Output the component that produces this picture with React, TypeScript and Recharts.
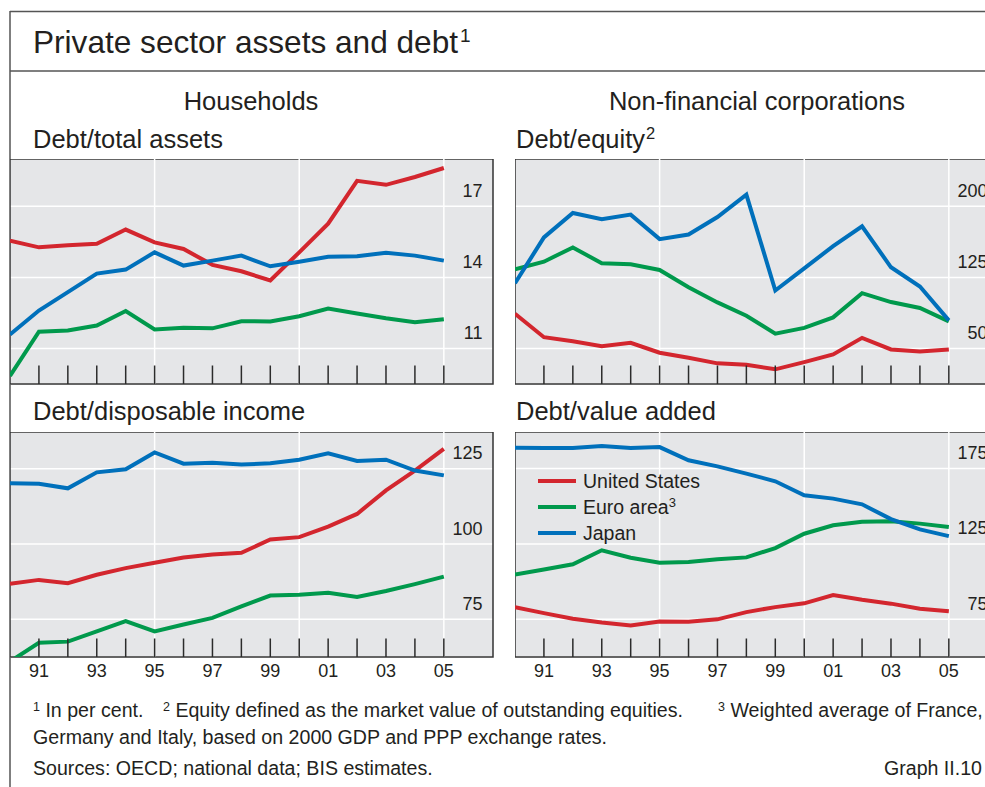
import { LineChart, Line, XAxis, YAxis, CartesianGrid, ReferenceLine, ReferenceArea, Legend } from "recharts"

const years = [1990, 1991, 1992, 1993, 1994, 1995, 1996, 1997, 1998, 1999, 2000, 2001, 2002, 2003, 2004, 2005]
const tickYears = [1991, 1992, 1993, 1994, 1995, 1996, 1997, 1998, 1999, 2000, 2001, 2002, 2003, 2004, 2005]
const gridYears = [1995, 2000, 2005]

// Households: debt/total assets
const hhAssetsUS = [15.55, 15.27, 15.36, 15.42, 16.02, 15.48, 15.2, 14.53, 14.26, 13.87, 15.06, 16.27, 18.08, 17.91, 18.24, 18.62]
const hhAssetsEuro = [9.84, 11.71, 11.76, 11.97, 12.58, 11.8, 11.88, 11.85, 12.15, 12.14, 12.36, 12.69, 12.48, 12.28, 12.11, 12.23]
const hhAssetsJapan = [11.59, 12.6, 13.38, 14.16, 14.33, 15.06, 14.5, 14.71, 14.92, 14.47, 14.66, 14.87, 14.89, 15.04, 14.92, 14.71]
const hhAssetsTicks = [11, 14, 17]

// Households: debt/disposable income
const hhIncomeUS = [86.8, 88.1, 87, 89.8, 92, 93.8, 95.5, 96.5, 97.1, 101.5, 102.3, 105.8, 110, 117.8, 124.4, 131.6]
const hhIncomeEuro = [61, 67.2, 67.6, 71, 74.4, 71, 73.3, 75.5, 79.3, 82.9, 83.2, 83.8, 82.4, 84.4, 86.7, 89.2]
const hhIncomeJapan = [120.2, 120, 118.5, 123.8, 124.8, 130.4, 126.7, 127, 126.4, 126.8, 128, 130.1, 127.6, 128, 124.4, 122.8]
const hhIncomeTicks = [75, 100, 125]

// Non-financial corporations: debt/equity
const nfcEquityUS = [86.7, 61.9, 57.7, 52.4, 56, 45.5, 40.2, 34.3, 32.9, 28, 35.6, 43.7, 61.2, 49, 46.8, 49]
const nfcEquityEuro = [133.6, 141.6, 156.7, 139.9, 138.8, 132.9, 114.7, 98.6, 84.6, 65.7, 71.7, 82.8, 108.4, 99, 92.7, 78.6]
const nfcEquityJapan = [118.9, 167.2, 193, 186.4, 191.3, 165.4, 170.3, 188.8, 212.3, 111.2, 134.6, 158, 179, 135.7, 115.4, 79.7]
const nfcEquityTicks = [50, 125, 200]

// Non-financial corporations: debt/value added
const nfcValueUS = [83.1, 79.1, 75.4, 72.9, 70.9, 73.6, 73.4, 75, 79.8, 83.1, 85.6, 91.1, 88, 85.4, 82, 80.3]
const nfcValueEuro = [104.8, 108.1, 111.5, 120.8, 115.9, 112.6, 113, 114.8, 116.1, 122.3, 131.8, 137.4, 139.8, 140, 138.5, 136.2]
const nfcValueJapan = [188.9, 188.7, 188.7, 190, 188.7, 189.3, 180.5, 176.5, 171.7, 166.6, 157.3, 155.1, 151.3, 141.5, 134.7, 130.2]
const nfcValueTicks = [75, 125, 175]

const seriesNames = ["United States", "Euro area", "Japan"]
const seriesNotes: Record<string, string> = { "Euro area": "3" }

const RED = "#d3262e"
const GREEN = "#00994c"
const BLUE = "#0070bb"
const PLOT_BG = "#e5e6e8"
const INK = "#231f20"
const FONT = "'Liberation Sans', Arial, Helvetica, sans-serif"

const PLOT_W = 483
const PLOT_H = 225
const AXIS_H = 30
const X_MAX = 2006.7

function toRows(us: number[], euro: number[], japan: number[]) {
  return years.map((year, i) => ({ year, us: us[i], euro: euro[i], japan: japan[i] }))
}

function XTick(props: any) {
  const { x, y, payload, showLabel } = props
  const yr = payload.value
  const label = String(yr % 100).padStart(2, "0")
  return (
    <g>
      <line x1={x} x2={x} y1={y} y2={y - 18.5} stroke="#2b2b2b" strokeWidth={1.5} />
      {showLabel && yr % 2 === 1 && (
        <text x={x} y={y + 20} textAnchor="middle" fontSize={18} fill={INK} fontFamily={FONT}>
          {label}
        </text>
      )}
    </g>
  )
}

function YTick(props: any) {
  const { x, y, payload } = props
  return (
    <text x={x - 10.5} y={y - 9.5} textAnchor="end" fontSize={18} fill={INK} fontFamily={FONT}>
      {payload.value}
    </text>
  )
}

function LegendBox(props: any) {
  const items = [...(props.payload || [])].sort(
    (a: any, b: any) => seriesNames.indexOf(a.value) - seriesNames.indexOf(b.value)
  )
  return (
    <div style={{ fontFamily: FONT, fontSize: 19.5, color: INK }}>
      {items.map((entry: any) => (
        <div key={entry.value} style={{ display: "flex", alignItems: "center", height: 26, whiteSpace: "nowrap" }}>
          <span style={{ display: "inline-block", width: 38, height: 4.5, background: entry.color, marginRight: 7 }} />
          <span>
            {entry.value}
            {seriesNotes[entry.value] && (
              <sup style={{ fontSize: 13, verticalAlign: "top", position: "relative", top: -1 }}>{seriesNotes[entry.value]}</sup>
            )}
          </span>
        </div>
      ))}
    </div>
  )
}

interface PanelProps {
  left: number
  top: number
  rows: { year: number; us: number; euro: number; japan: number }[]
  domain: [number, number]
  ticks: number[]
  showXLabels?: boolean
  showLegend?: boolean
}

function Panel({ left, top, rows, domain, ticks, showXLabels, showLegend }: PanelProps) {
  return (
    <div style={{ position: "absolute", left, top }}>
      <LineChart width={PLOT_W + 1} height={PLOT_H + AXIS_H} data={rows} margin={{ top: 0, right: 0, bottom: 0, left: 0 }}>
        <CartesianGrid fill={PLOT_BG} fillOpacity={1} stroke="#ffffff" strokeWidth={1.5} vertical={false} />
        {gridYears.map((g) => (
          <ReferenceLine key={g} x={g} stroke="#ffffff" strokeWidth={1.5} />
        ))}
        <XAxis
          type="number"
          dataKey="year"
          domain={[1990, X_MAX]}
          allowDataOverflow
          ticks={tickYears}
          interval={0}
          height={AXIS_H}
          tickSize={0}
          tickMargin={0}
          axisLine={false}
          tickLine={false}
          tick={(p: any) => <XTick {...p} showLabel={showXLabels} />}
        />
        <YAxis
          orientation="right"
          width={1}
          domain={domain}
          allowDataOverflow
          ticks={ticks}
          interval={0}
          tickSize={0}
          tickMargin={0}
          axisLine={false}
          tickLine={false}
          tick={(p: any) => <YTick {...p} />}
        />
        {showLegend && (
          <Legend
            layout="vertical"
            align="center"
            verticalAlign="middle"
            content={(p: any) => <LegendBox {...p} />}
            wrapperStyle={{ left: 23, top: 36, width: 200, height: 80 }}
          />
        )}
        <Line dataKey="us" name={seriesNames[0]} stroke={RED} strokeWidth={4} dot={false} isAnimationActive={false} />
        <Line dataKey="euro" name={seriesNames[1]} stroke={GREEN} strokeWidth={4} dot={false} isAnimationActive={false} />
        <Line dataKey="japan" name={seriesNames[2]} stroke={BLUE} strokeWidth={4} dot={false} isAnimationActive={false} />
        <ReferenceArea
          x1={1990}
          x2={X_MAX}
          y1={domain[0]}
          y2={domain[1]}
          fill="none"
          stroke="#333333"
          strokeWidth={1.5}
          ifOverflow="visible"
        />
      </LineChart>
    </div>
  )
}

export default function App() {
  const sup = { fontSize: 12.5 }
  const noteSize = 19.6
  return (
    <div style={{ position: "fixed", left: 0, top: 0, width: 985, height: 787, overflow: "hidden", background: "#ffffff" }}>
      <svg width={985} height={787} style={{ position: "absolute", left: 0, top: 0 }} fontFamily={FONT} fill={INK}>
        <line x1={10} x2={985} y1={11.5} y2={11.5} stroke="#555" strokeWidth={1.5} />
        <line x1={10} x2={985} y1={71} y2={71} stroke="#555" strokeWidth={1.5} />
        <line x1={10} x2={10} y1={11} y2={787} stroke="#555" strokeWidth={1.5} />
        <text x={33} y={53} fontSize={31.6}>
          Private sector assets and debt<tspan fontSize={19} dx={2} dy={-11}>1</tspan>
        </text>
        <text x={251} y={110} fontSize={25.5} textAnchor="middle">Households</text>
        <text x={757} y={110} fontSize={25.5} textAnchor="middle">Non-financial corporations</text>
        <text x={33} y={147.5} fontSize={25.5}>Debt/total assets</text>
        <text x={516} y={147.5} fontSize={25.5}>
          Debt/equity<tspan fontSize={16.5} dx={1} dy={-9}>2</tspan>
        </text>
        <text x={33} y={420} fontSize={25.5}>Debt/disposable income</text>
        <text x={516} y={420} fontSize={25.5}>Debt/value added</text>
        <text x={33} y={717} fontSize={noteSize}>
          <tspan {...sup} dy={-6}>1</tspan>
          <tspan dy={6}> In per cent.</tspan>
        </text>
        <text x={163} y={717} fontSize={noteSize}>
          <tspan {...sup} dy={-6}>2</tspan>
          <tspan dy={6}> Equity defined as the market value of outstanding equities.</tspan>
        </text>
        <text x={718} y={717} fontSize={noteSize}>
          <tspan {...sup} dy={-6}>3</tspan>
          <tspan dy={6}> Weighted average of France,</tspan>
        </text>
        <text x={33} y={744} fontSize={noteSize}>Germany and Italy, based on 2000 GDP and PPP exchange rates.</text>
        <text x={33} y={775} fontSize={noteSize}>Sources: OECD; national data; BIS estimates.</text>
        <text x={982} y={775} fontSize={noteSize} textAnchor="end">Graph II.10</text>
      </svg>
      <Panel left={10} top={159} rows={toRows(hhAssetsUS, hhAssetsEuro, hhAssetsJapan)} domain={[9.5, 19]} ticks={hhAssetsTicks} />
      <Panel left={515} top={159} rows={toRows(nfcEquityUS, nfcEquityEuro, nfcEquityJapan)} domain={[12.5, 250]} ticks={nfcEquityTicks} />
      <Panel left={10} top={432} rows={toRows(hhIncomeUS, hhIncomeEuro, hhIncomeJapan)} domain={[62.5, 137.2]} ticks={hhIncomeTicks} showXLabels />
      <Panel left={515} top={432} rows={toRows(nfcValueUS, nfcValueEuro, nfcValueJapan)} domain={[50, 199.3]} ticks={nfcValueTicks} showXLabels showLegend />
    </div>
  )
}
